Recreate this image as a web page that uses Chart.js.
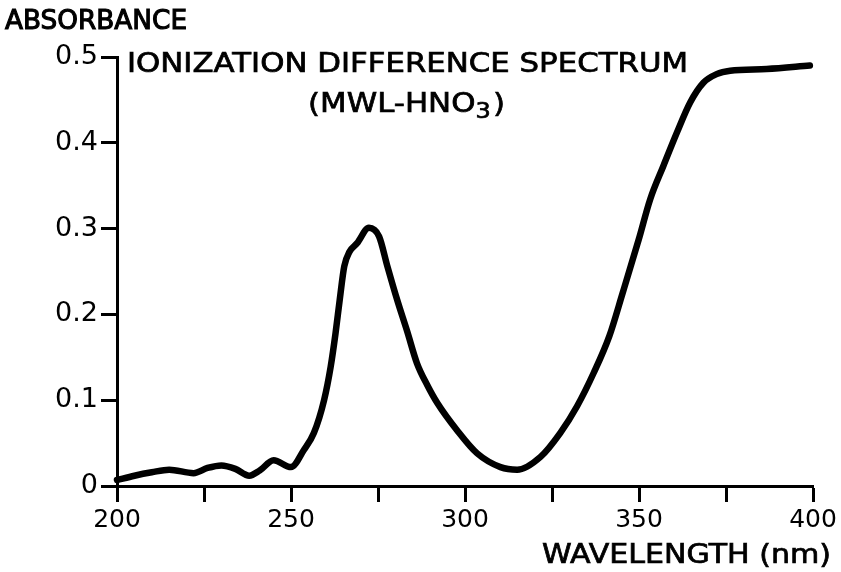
<!DOCTYPE html>
<html>
<head>
<meta charset="utf-8">
<script src="https://cdn.jsdelivr.net/npm/chart.js@4.4.1/dist/chart.umd.min.js"></script>
<style>
  html, body { margin: 0; padding: 0; background: #fff; }
  #wrap { width: 841px; height: 572px; position: relative; }
</style>
</head>
<body>
<div id="wrap"><canvas id="c" width="841" height="572"></canvas></div>
<script>
// ---- data ----
const wavelengths = [200, 205, 210, 215, 222, 226, 230, 234, 238, 241, 245, 250, 253.7, 256.6, 259.5, 261.4, 262.8, 264.0, 265.3, 266.8, 269, 272.4, 275.3, 277.7, 280.5, 283.4, 286.2, 289.1, 292, 297.7, 303.5, 310.2, 315, 321.7, 327.4, 332.2, 337, 341.5, 345.3, 349.9, 353.2, 357, 360.9, 364.7, 368.5, 372.3, 376.2, 386.7, 399.1];
const absorbance = [0.007, 0.012, 0.016, 0.019, 0.015, 0.021, 0.024, 0.020, 0.012, 0.018, 0.030, 0.022, 0.042, 0.062, 0.100, 0.139, 0.178, 0.217, 0.256, 0.273, 0.283, 0.301, 0.291, 0.256, 0.217, 0.180, 0.143, 0.118, 0.097, 0.065, 0.038, 0.022, 0.019, 0.034, 0.062, 0.093, 0.132, 0.175, 0.225, 0.287, 0.334, 0.373, 0.412, 0.447, 0.470, 0.480, 0.484, 0.486, 0.490];
const yTickValues = [0, 0.1, 0.2, 0.3, 0.4, 0.5];
const yTickLabels = ['0', '0.1', '0.2', '0.3', '0.4', '0.5'];
const xTickLabels = { 200: '200', 250: '250', 300: '300', 350: '350', 400: '400' };
const yAxisTitle = 'ABSORBANCE';
const titleLine1 = 'IONIZATION DIFFERENCE SPECTRUM';
const titleLine2Main = '(MWL-HNO';
const titleLine2Sub = '3';
const titleLine2End = ')';
const xAxisTitle = 'WAVELENGTH (nm)';

const FONT = '"DejaVu Sans", "Liberation Sans", sans-serif';

// draw text horizontally stretched to a target width
function stretched(ctx, parts, x, baseline, targetWidth, stroke) {
  let natural = 0;
  parts.forEach(p => {
    ctx.font = p.size + 'px ' + FONT;
    p.w = ctx.measureText(p.t).width + (p.gap || 0);
    natural += p.w;
  });
  const k = targetWidth / natural;
  ctx.save();
  ctx.translate(x, baseline);
  ctx.scale(k, 1);
  let cx = 0;
  parts.forEach(p => {
    ctx.font = p.size + 'px ' + FONT;
    ctx.fillText(p.t, cx, p.dy || 0);
    ctx.lineWidth = stroke;
    ctx.strokeText(p.t, cx, p.dy || 0);
    cx += p.w;
  });
  ctx.restore();
}

const textPlugin = {
  id: 'texts',
  afterDraw(chart) {
    const ctx = chart.ctx;
    ctx.save();
    ctx.fillStyle = '#000';
    ctx.strokeStyle = '#000';
    ctx.textBaseline = 'alphabetic';
    ctx.textAlign = 'left';
    stretched(ctx, [{ t: yAxisTitle, size: 26 }], 5, 29, 182, 1.1);
    stretched(ctx, [{ t: titleLine1, size: 26 }], 127, 72, 561, 0.7);
    stretched(ctx, [
      { t: titleLine2Main, size: 27 },
      { t: titleLine2Sub, size: 21, dy: 6, gap: 2 },
      { t: titleLine2End, size: 27 }
    ], 308, 112, 197, 0.7);
    stretched(ctx, [{ t: xAxisTitle, size: 26 }], 542, 563, 289, 0.7);
    ctx.restore();
  }
};

new Chart(document.getElementById('c'), {
  type: 'line',
  data: {
    datasets: [{
      data: wavelengths.map((w, i) => ({ x: w, y: absorbance[i] })),
      borderColor: '#000',
      borderWidth: 6.5,
      pointRadius: 0,
      fill: false,
      cubicInterpolationMode: 'monotone',
      borderCapStyle: 'round',
      borderJoinStyle: 'round',
      clip: false
    }]
  },
  options: {
    responsive: false,
    animation: false,
    layout: { padding: { left: 0, right: 28, top: 57, bottom: 0 } },
    plugins: { legend: { display: false }, tooltip: { enabled: false } },
    scales: {
      x: {
        type: 'linear',
        min: 200,
        max: 400,
        afterFit(s) { s.height = 86; },
        afterBuildTicks(s) {
          const t = [];
          for (let v = 200; v <= 400; v += 25) t.push({ value: v });
          s.ticks = t;
        },
        border: { display: true, color: '#000', width: 3 },
        grid: { drawOnChartArea: false, drawTicks: true, tickLength: 16, tickWidth: 3, tickColor: '#000' },
        ticks: {
          color: '#000',
          font: { family: FONT, size: 25 },
          padding: 3,
          maxRotation: 0,
          autoSkip: false,
          callback: (v) => xTickLabels[v] || ''
        }
      },
      y: {
        type: 'linear',
        min: 0,
        max: 0.5,
        afterFit(s) { s.width = 117; },
        afterBuildTicks(s) { s.ticks = yTickValues.map(v => ({ value: v })); },
        border: { display: true, color: '#000', width: 3 },
        grid: { drawOnChartArea: false, drawTicks: true, tickLength: 16, tickWidth: 3, tickColor: '#000' },
        ticks: {
          color: '#000',
          font: { family: FONT, size: 27 },
          padding: 3,
          autoSkip: false,
          callback: (v, i) => yTickLabels[i]
        }
      }
    }
  },
  plugins: [textPlugin]
});
</script>
</body>
</html>
